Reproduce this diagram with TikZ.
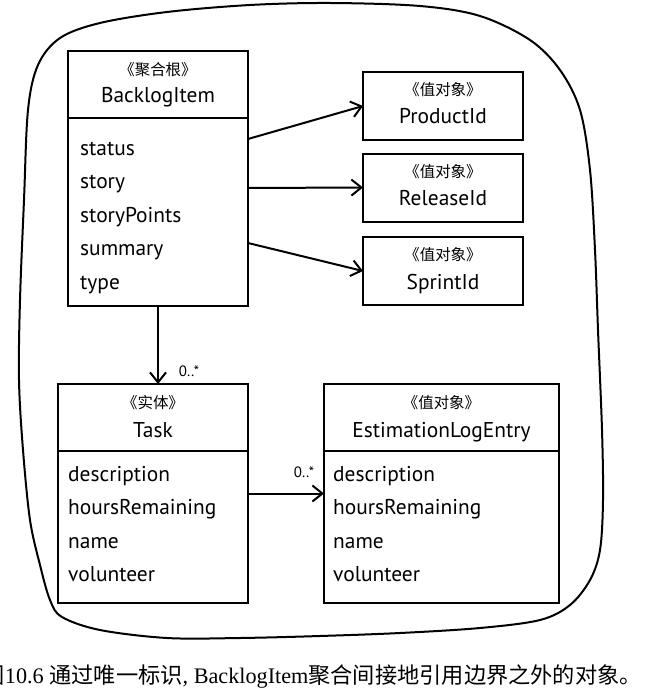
\documentclass[tikz,border=0pt]{standalone}
\usepackage{fontspec}
\setmainfont{PT Sans}
\newfontfamily\cjk{Noto Sans CJK SC}
\newfontfamily\capserif{Liberation Serif}
\usetikzlibrary{arrows.meta,calc}
\begin{document}
\begin{tikzpicture}[x=1bp,y=-1bp,
  box/.style={draw, line width=2bp, inner sep=0pt, outer sep=0pt},
  stereo/.style={font=\cjk\fontsize{15.5}{18}\selectfont, inner sep=0pt},
  cname/.style={font=\fontsize{21.5}{25}\selectfont, inner sep=0pt, anchor=base},
  attr/.style={font=\fontsize{21.5}{25}\selectfont, inner sep=0pt, anchor=base west},
  mult/.style={font=\fontsize{15}{17}\selectfont, inner sep=0pt},
  link/.style={line width=2bp, -{Straight Barb[length=10bp,width=16bp]}},
  divider/.style={line width=2bp},
]
\useasboundingbox (0,0) rectangle (645,695);
\fill[white] (0,0) rectangle (645,695);

% boundary blob
\draw[line width=2bp] plot[smooth cycle, tension=0.55] coordinates {
 (330,3) (420,6) (480,16) (530,40) (560,70) (580,110) (590,170) (595,250)
 (598,330) (602,430) (603,500) (600,550) (590,580) (570,605) (540,620)
 (480,628) (400,633) (320,636) (240,638) (167,638) (100,630) (62,617)
 (50,600) (40,565) (30,520) (23,450) (19,380) (20,300) (24,200) (28,110)
 (38,65) (60,38) (100,23) (167,12) (250,5)};

% BacklogItem
\node[box, minimum width=180bp, minimum height=255bp] (bi) at (158,178.5) {};
\draw[divider] ($(bi.north west)+(0,67)$) -- ($(bi.north east)+(0,67)$);
\node[stereo] (bis) at (158,70) {《聚合根》};
\node[cname] (bin) at (158,103) {BacklogItem};
\node[attr] (bi1) at (80,155) {status};
\node[attr] (bi2) at (80,188.5) {story};
\node[attr] (bi3) at (80,222) {storyPoints};
\node[attr] (bi4) at (80,255.5) {summary};
\node[attr] (bi5) at (80,289) {type};

% value objects
\node[box, minimum width=160bp, minimum height=68bp] (pid) at (443,106) {};
\node[stereo] (pids) at (443,90) {《值对象》};
\node[cname] (pidn) at (443,124) {ProductId};

\node[box, minimum width=160bp, minimum height=68bp] (rid) at (443,187.5) {};
\node[stereo] (rids) at (443,171.5) {《值对象》};
\node[cname] (ridn) at (443,205.5) {ReleaseId};

\node[box, minimum width=160bp, minimum height=68bp] (sid) at (443,271) {};
\node[stereo] (sids) at (443,255) {《值对象》};
\node[cname] (sidn) at (443,289) {SprintId};

% Task
\node[box, minimum width=190bp, minimum height=219bp] (task) at (153,493.5) {};
\draw[divider] ($(task.north west)+(0,67)$) -- ($(task.north east)+(0,67)$);
\node[stereo] (tasks) at (153,403) {《实体》};
\node[cname] (taskn) at (153,437) {Task};
\node[attr] (t1) at (68,481) {description};
\node[attr] (t2) at (68,514.5) {hoursRemaining};
\node[attr] (t3) at (68,548) {name};
\node[attr] (t4) at (68,581.5) {volunteer};

% EstimationLogEntry
\node[box, minimum width=235bp, minimum height=219bp] (ele) at (441.5,493.5) {};
\draw[divider] ($(ele.north west)+(0,67)$) -- ($(ele.north east)+(0,67)$);
\node[stereo] (eles) at (441.5,403) {《值对象》};
\node[cname] (elen) at (441.5,437) {EstimationLogEntry};
\node[attr] (e1) at (333,481) {description};
\node[attr] (e2) at (333,514.5) {hoursRemaining};
\node[attr] (e3) at (333,548) {name};
\node[attr] (e4) at (333,581.5) {volunteer};

% connectors
\coordinate (a1) at ($(bi.north east)+(0,88)$);
\coordinate (a2) at ($(bi.north east)+(0,137)$);
\coordinate (a3) at ($(bi.north east)+(0,192)$);
\draw[link] (a1) -- (pid.west);
\draw[link] (a2) -- (rid.west);
\draw[link] (a3) -- (sid.west);
\draw[link] (bi.south) -- (bi.south |- task.north);
\node[mult] (m1) at (189,371) {0..*};
\draw[link] (task.east) -- (ele.west);
\node[mult] (m2) at (304,472) {0..*};

% caption
\node[font=\capserif\fontsize{22.3}{25}\selectfont, anchor=base west, inner sep=0pt] (cap) at (-17.5,683)
  {{\cjk 图}10.6 {\cjk 通过唯一标识}, BacklogItem{\cjk 聚合间接地引用边界之外的对象。}};
\end{tikzpicture}
\end{document}
